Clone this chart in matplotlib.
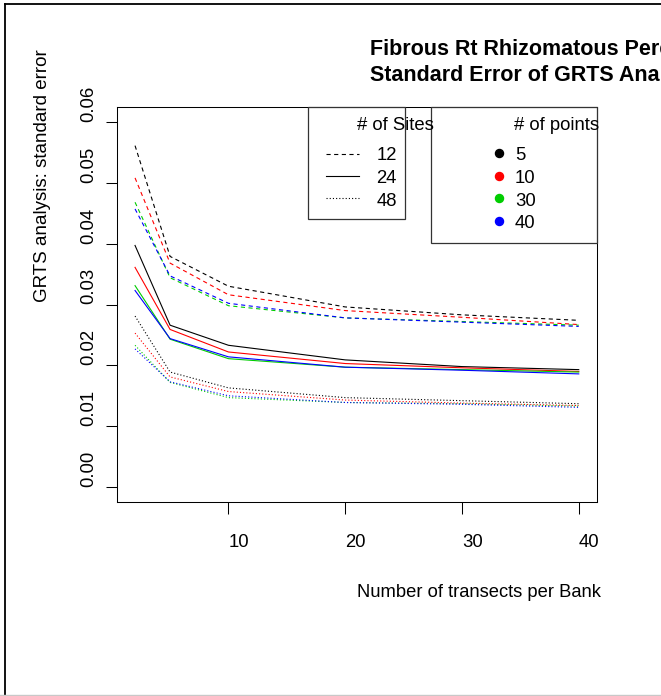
import matplotlib
matplotlib.use("Agg")
import matplotlib.pyplot as plt
from matplotlib.lines import Line2D
from matplotlib.patches import Rectangle

plt.rcParams['font.family'] = ['Liberation Sans', 'DejaVu Sans']
plt.rcParams['lines.scale_dashes'] = False

W, H = 661, 696

transects = [2, 5, 10, 20, 30, 40]
n_points = [5, 10, 30, 40]
n_sites = [12, 24, 48]
point_colors = ['black', '#FF0000', '#00CD00', '#0000FF']

# standard error, one row per number of points (5, 10, 30, 40)
se_12_sites = [
    [0.0561, 0.0379, 0.0330, 0.0296, 0.0283, 0.0274],
    [0.0508, 0.0368, 0.0316, 0.0290, 0.0279, 0.0267],
    [0.0468, 0.0344, 0.0298, 0.0278, 0.0272, 0.0266],
    [0.0457, 0.0347, 0.0302, 0.0278, 0.0271, 0.0264],
]
se_24_sites = [
    [0.0397, 0.0266, 0.0233, 0.0209, 0.0198, 0.0193],
    [0.0361, 0.0259, 0.0222, 0.0203, 0.0196, 0.0190],
    [0.0331, 0.0243, 0.0211, 0.0197, 0.0193, 0.0189],
    [0.0323, 0.0244, 0.0214, 0.0197, 0.0192, 0.0186],
]
se_48_sites = [
    [0.0281, 0.0189, 0.0163, 0.0147, 0.0142, 0.0137],
    [0.0253, 0.0181, 0.0157, 0.0143, 0.0138, 0.0134],
    [0.0233, 0.0172, 0.0147, 0.0139, 0.0137, 0.0133],
    [0.0227, 0.0173, 0.0150, 0.0139, 0.0136, 0.0131],
]
site_styles = [(0, (3, 2.5)), '-', (0, (0.8, 1.5))]

y_ticks = [0.00, 0.01, 0.02, 0.03, 0.04, 0.05, 0.06]
x_ticks = [10, 20, 30, 40]


def fx(px):
    return px / W


def fy(py):
    return 1 - py / H


def main():
    fig = plt.figure(figsize=(W / 100, H / 100), dpi=100)
    ax = fig.add_axes([fx(117.3), fy(501.7), fx(596.5) - fx(117.3), fy(107.3) - fy(501.7)])

    for se, ls in zip([se_12_sites, se_24_sites, se_48_sites], site_styles):
        for vals, c in zip(se, point_colors):
            ax.plot(transects, vals, color=c, ls=ls, lw=0.8)

    ax.set_xlim(0.48, 41.52)
    ax.set_ylim(-0.0024, 0.0624)
    ax.set_xticks(x_ticks)
    ax.set_xticklabels([str(v) for v in x_ticks])
    ax.set_yticks(y_ticks)
    ax.set_yticklabels([f'{v:.2f}' for v in y_ticks])
    ax.tick_params(axis='x', length=8.6, width=0.75, pad=15, labelsize=13.3)
    ax.tick_params(axis='y', length=8, width=0.75, pad=9, labelsize=13.3)
    for lab in ax.get_xticklabels():
        lab.set_ha('left')
    for lab in ax.get_yticklabels():
        lab.set_rotation(90)
        lab.set_rotation_mode('anchor')
        lab.set_ha('left')
        lab.set_va('baseline')
    for sp in ax.spines.values():
        sp.set_linewidth(0.75)

    # axis titles and main title (anchored on their left edge)
    fig.text(fx(356.5), fy(597), 'Number of transects per Bank', fontsize=13.2,
             ha='left', va='baseline')
    fig.text(fx(47), fy(302), 'GRTS analysis: standard error', fontsize=13.5,
             rotation=90, rotation_mode='anchor', ha='left', va='baseline')
    fig.text(fx(370), fy(55), 'Fibrous Rt Rhizomatous Perennials', fontsize=15.5,
             fontweight='bold', ha='left', va='baseline')
    fig.text(fx(370), fy(81), 'Standard Error of GRTS Analysis', fontsize=15.5,
             fontweight='bold', ha='left', va='baseline')

    # legend: number of sites
    fig.add_artist(Rectangle((fx(308.3), fy(219.3)), fx(405.3) - fx(308.3), fy(107.3) - fy(219.3),
                             fill=False, ec='#333333', lw=0.9, transform=fig.transFigure))
    fig.text(fx(356.8), fy(130), '# of Sites', fontsize=13.3, ha='left', va='baseline')
    for i, (s, ls) in enumerate(zip(n_sites, site_styles)):
        yk = 153.5 + i * 22.5
        fig.add_artist(Line2D([fx(326), fx(359.3)], [fy(yk), fy(yk)], color='black', ls=ls,
                              lw=0.8, transform=fig.transFigure))
        fig.text(fx(376.5), fy(yk + 7), str(s), fontsize=13.3, ha='left', va='baseline')

    # legend: number of points
    fig.add_artist(Rectangle((fx(430.7), fy(243.3)), fx(596.7) - fx(430.7), fy(107.3) - fy(243.3),
                             fill=False, ec='#333333', lw=0.9, transform=fig.transFigure))
    fig.text(fx(513.7), fy(130), '# of points', fontsize=13.3, ha='left', va='baseline')
    for i, (p, c) in enumerate(zip(n_points, point_colors)):
        yk = 153 + i * 22.5
        fig.add_artist(Line2D([fx(499)], [fy(yk)], marker='o', ms=5.8, color=c, ls='none',
                              transform=fig.transFigure))
        fig.text(fx(515), fy(yk + 7.5), str(p), fontsize=13.3, ha='left', va='baseline')

    # page frame
    fig.add_artist(Line2D([fx(5), fx(5)], [fy(4), 0], color='black', lw=1.3, transform=fig.transFigure))
    fig.add_artist(Line2D([fx(5), 1], [fy(4), fy(4)], color='black', lw=1.3, transform=fig.transFigure))
    fig.add_artist(Line2D([0, 1], [fy(695.3), fy(695.3)], color='#c8c8c8', lw=1.0, transform=fig.transFigure))

    fig.savefig('out.png', dpi=100)


if __name__ == "__main__":
    main()
